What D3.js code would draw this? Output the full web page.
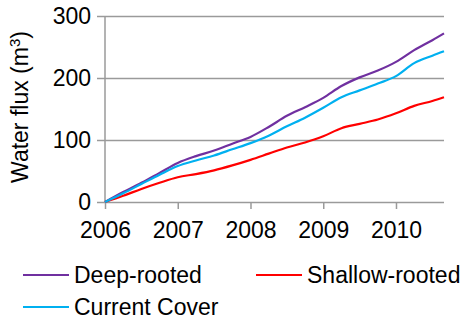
<!DOCTYPE html>
<html lang="en">
  <head>
    <script src="https://d3js.org/d3.v7.min.js"></script>
    <meta charset="UTF-8" />
    <title>Water flux</title>
    <style>
      body { margin: 0; background: #fff; }
      text { font-family: "Liberation Sans", Arial, sans-serif; fill: #000; }
    </style>
  </head>
  <body>
    <svg width="461" height="320"></svg>
    <script>
      // quarterly time points, 2006 to late 2010
      var years = [2006, 2006.25, 2006.5, 2006.75, 2007, 2007.25, 2007.5, 2007.75, 2008,
        2008.25, 2008.5, 2008.75, 2009, 2009.25, 2009.5, 2009.75, 2010, 2010.25, 2010.5, 2010.66];
      var deepRooted = [0, 16, 31, 47, 63, 74, 83, 94, 105, 121, 139, 153, 168, 187, 201, 212, 226, 245, 261, 272];
      var shallowRooted = [0, 10, 21, 31, 40, 45, 51, 59, 68, 78, 88, 96, 106, 119, 126, 133, 143, 155, 163, 169];
      var currentCover = [0, 14, 29, 44, 58, 67, 75, 85, 95, 107, 122, 136, 152, 169, 180, 191, 203, 224, 236, 243];
      var yTicks = [0, 100, 200, 300];
      var xTicks = [2006, 2007, 2008, 2009, 2010];

      var series = [
        { name: "Deep-rooted", values: deepRooted, color: "#7030a0" },
        { name: "Shallow-rooted", values: shallowRooted, color: "#ff0000" },
        { name: "Current Cover", values: currentCover, color: "#00b0f0" }
      ];

      var svg = d3.select("svg");
      var mLeft = 105, mRight = 444, mTop = 16, mBottom = 202;
      var gray = "#9a9a9a";

      var x = d3.scaleLinear().domain([2006, 2010.66]).range([mLeft, mRight]);
      var y = d3.scaleLinear().domain([0, 300]).range([mBottom, mTop]);

      // gridlines + y tick labels
      var yAxis = svg.append("g")
        .attr("transform", "translate(" + (mLeft - 8) + ",0)")
        .call(d3.axisLeft(y).tickValues(yTicks).tickSize(-(mRight - mLeft + 8)).tickPadding(6));
      yAxis.select(".domain").remove();
      yAxis.selectAll("line").attr("stroke", gray).attr("stroke-width", 1.5);
      yAxis.selectAll("text").attr("font-size", 23).attr("font-family", "Liberation Sans, Arial, sans-serif");

      // x axis ticks
      var xAxis = svg.append("g")
        .attr("transform", "translate(0," + mBottom + ")")
        .call(d3.axisBottom(x).tickValues(xTicks).tickSizeInner(7).tickSizeOuter(0).tickFormat(d3.format("d")));
      xAxis.select(".domain").remove();
      xAxis.selectAll("line").attr("stroke", gray).attr("stroke-width", 1.5);
      xAxis.selectAll("text")
        .attr("y", 36).attr("dy", 0)
        .attr("font-size", 23).attr("font-family", "Liberation Sans, Arial, sans-serif");

      // y axis line
      svg.append("line")
        .attr("x1", mLeft).attr("x2", mLeft)
        .attr("y1", mTop).attr("y2", mBottom)
        .attr("stroke", gray).attr("stroke-width", 1.5);

      var line = d3.line()
        .x(function (d, i) { return x(years[i]); })
        .y(function (d) { return y(d); })
        .curve(d3.curveMonotoneX);

      svg.selectAll(".series")
        .data(series)
        .enter()
        .append("path")
        .attr("class", "series")
        .attr("fill", "none")
        .attr("stroke", function (d) { return d.color; })
        .attr("stroke-width", 2.2)
        .attr("d", function (d) { return line(d.values); });

      // y axis title
      var title = svg.append("text")
        .attr("transform", "translate(28," + 107 + ") rotate(-90)")
        .attr("text-anchor", "middle")
        .attr("font-size", 23);
      title.append("tspan").text("Water flux (m");
      title.append("tspan").attr("font-size", 15).attr("dy", -8).text("3");
      title.append("tspan").attr("dy", 8).text(")");

      // legend
      var legendPos = [[23, 275], [256, 275], [23, 307]];
      var legend = svg.selectAll(".legend")
        .data(series)
        .enter()
        .append("g")
        .attr("class", "legend")
        .attr("transform", function (d, i) {
          return "translate(" + legendPos[i][0] + "," + legendPos[i][1] + ")";
        });
      legend.append("line")
        .attr("x1", 0).attr("x2", 46)
        .attr("stroke", function (d) { return d.color; })
        .attr("stroke-width", 2);
      legend.append("text")
        .attr("x", 51).attr("y", 8)
        .attr("font-size", 23)
        .text(function (d) { return d.name; });
    </script>
  </body>
</html>
